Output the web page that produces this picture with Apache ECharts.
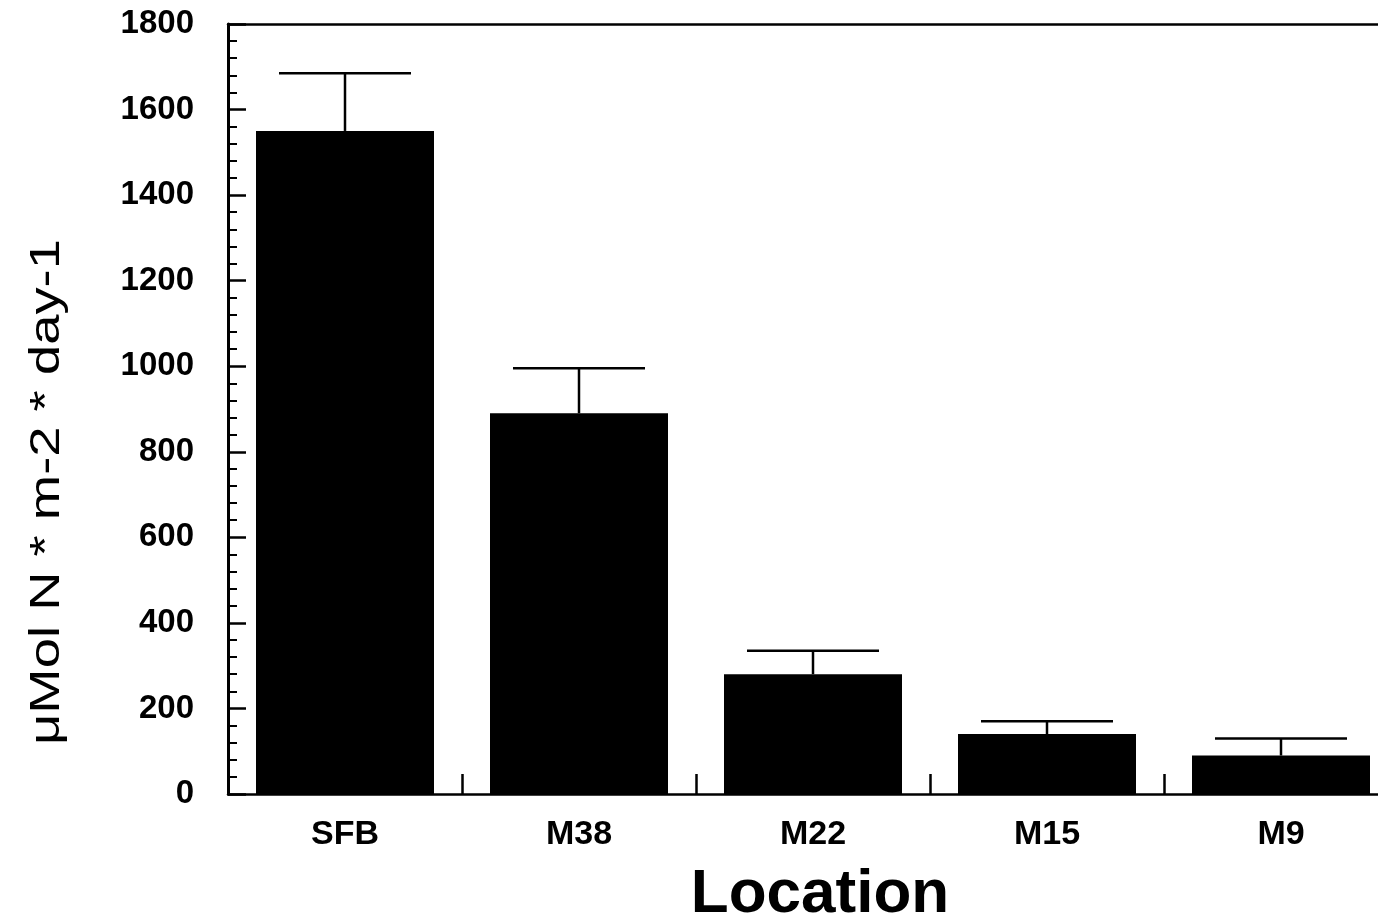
<!DOCTYPE html>
<html>
<head>
<meta charset="utf-8">
<title>Nitrogen flux by location</title>
<script src="https://cdn.jsdelivr.net/npm/echarts@6/dist/echarts.min.js"></script>
<style>
  html, body { margin: 0; padding: 0; background: #ffffff; }
  #chart { width: 1378px; height: 922px; }
</style>
</head>
<body>
<div id="chart"></div>
<script>
// Sampling locations along the transect
var categories = ['SFB', 'M38', 'M22', 'M15', 'M9'];
// Mean flux, µMol N per m² per day
var means = [1550, 890, 280, 140, 90];
// Standard error above each mean
var errors = [135, 105, 55, 30, 40];
// Value-axis range and tick spacing
var yMin = 0;
var yMax = 1800;
var yStep = 200;

var FONT = '"Liberation Sans", Arial, Helvetica, sans-serif';

var chart = echarts.init(document.getElementById('chart'), null, { renderer: 'canvas' });

var errorData = categories.map(function (c, i) {
  return [i, means[i], means[i] + errors[i]];
});

var option = {
  backgroundColor: '#ffffff',
  animation: false,
  grid: { left: 228, top: 24, width: 1170, height: 770, outerBoundsMode: 'none', containLabel: false },
  xAxis: [
    {
      type: 'category',
      data: categories,
      position: 'bottom',
      boundaryGap: true,
      name: 'Location',
      nameLocation: 'middle',
      nameGap: 70,
      nameTextStyle: { fontFamily: FONT, fontWeight: 'bold', fontSize: 62, color: '#000', padding: [0, 0, 0, 14] },
      axisLine: { show: true, lineStyle: { color: '#000', width: 2.5 } },
      axisTick: { show: true, inside: true, length: 20, alignWithLabel: false, lineStyle: { color: '#000', width: 2.5 } },
      axisLabel: { fontFamily: FONT, fontWeight: 'bold', fontSize: 34, color: '#000', margin: 24 },
      splitLine: { show: false }
    },
    {
      // top frame line
      type: 'category',
      data: categories,
      position: 'top',
      axisLine: { show: true, lineStyle: { color: '#000', width: 2.5 } },
      axisTick: { show: false },
      axisLabel: { show: false },
      splitLine: { show: false }
    }
  ],
  yAxis: {
    type: 'value',
    min: yMin,
    max: yMax,
    interval: yStep,
    axisLine: { show: true, lineStyle: { color: '#000', width: 3 } },
    axisTick: { show: true, inside: true, length: 18, lineStyle: { color: '#000', width: 2.5 } },
    minorTick: { show: true, splitNumber: 5, length: 9, lineStyle: { color: '#000', width: 2 } },
    axisLabel: {
      fontFamily: FONT, fontWeight: 'bold', fontSize: 33, color: '#000', margin: 34,
      formatter: function (v) { return String(v); }
    },
    splitLine: { show: false }
  },
  series: [
    {
      type: 'bar',
      data: means,
      barWidth: 178,
      itemStyle: { color: '#000' },
      z: 3
    },
    {
      type: 'custom',
      data: errorData,
      z: 4,
      renderItem: function (params, api) {
        var base = api.coord([api.value(0), api.value(1)]);
        var top = api.coord([api.value(0), api.value(2)]);
        var half = 66;
        var style = { stroke: '#000', lineWidth: 2.5, fill: null };
        return {
          type: 'group',
          children: [
            { type: 'line', shape: { x1: base[0], y1: base[1], x2: top[0], y2: top[1] }, style: style },
            { type: 'line', shape: { x1: top[0] - half, y1: top[1], x2: top[0] + half, y2: top[1] }, style: style }
          ]
        };
      }
    }
  ],
  graphic: [
    {
      type: 'text',
      x: 47,
      y: 492,
      rotation: Math.PI / 2,
      scaleX: 1.36,
      scaleY: 1.05,
      style: {
        text: 'μMol N * m-2 * day-1',
        fontFamily: FONT,
        fontSize: 40,
        fill: '#000',
        align: 'center',
        verticalAlign: 'middle'
      }
    }
  ]
};

chart.setOption(option);
</script>
</body>
</html>
